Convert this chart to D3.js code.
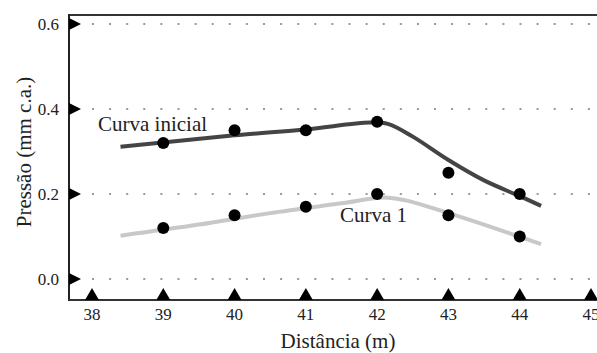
<!DOCTYPE html>
<html>
<head>
<meta charset="utf-8">
<script src="https://cdn.jsdelivr.net/npm/d3@7"></script>
<style>
    body { margin: 0; background: #fff; }
</style>
</head>
<body>
<script>
// measured points
const distancias = [39, 40, 41, 42, 43, 44];
const pressaoInicial = [0.32, 0.35, 0.35, 0.37, 0.25, 0.20];
const pressaoCurva1 = [0.12, 0.15, 0.17, 0.20, 0.15, 0.10];

// fitted curves
const curvaInicialX = [38.4, 40, 41, 41.9, 42.15, 42.5, 43, 43.5, 44, 44.3];
const curvaInicialY = [0.311, 0.338, 0.352, 0.368, 0.365, 0.335, 0.28, 0.232, 0.195, 0.172];
const curva1X = [38.4, 39.5, 40.5, 41.5, 42.1, 42.4, 43, 43.5, 44.3];
const curva1Y = [0.102, 0.128, 0.155, 0.178, 0.192, 0.185, 0.155, 0.128, 0.082];

const xTicks = [38, 39, 40, 41, 42, 43, 44, 45];
const yTicks = [0.0, 0.2, 0.4, 0.6];

const width = 597, height = 353;
const frame = {left: 69, top: 15, bottom: 300, right: 600};

const svg = d3.select('body').append('svg')
    .attr('width', width)
    .attr('height', height)
    .attr('font-family', '"Liberation Serif", "Times New Roman", serif')
    .attr('fill', '#222');

const x = d3.scaleLinear().domain([38, 45]).range([92, 591]);
const y = d3.scaleLinear().domain([0, 0.6]).range([279, 24]);

// dotted gridlines
svg.append('g').attr('class', 'grid')
    .selectAll('line')
    .data(yTicks)
    .join('line')
    .attr('x1', x(38))
    .attr('x2', width)
    .attr('y1', d => y(d))
    .attr('y2', d => y(d))
    .attr('stroke', '#999')
    .attr('stroke-width', 2)
    .attr('stroke-dasharray', '2,15.1');

// frame: top, left, bottom
svg.append('line')
    .attr('x1', frame.left).attr('x2', frame.right)
    .attr('y1', frame.top).attr('y2', frame.top)
    .attr('stroke', '#333').attr('stroke-width', 2);
svg.append('line')
    .attr('x1', frame.left).attr('x2', frame.left)
    .attr('y1', frame.top - 1).attr('y2', frame.bottom + 1)
    .attr('stroke', '#222').attr('stroke-width', 2);
svg.append('line')
    .attr('x1', frame.left).attr('x2', frame.right)
    .attr('y1', frame.bottom).attr('y2', frame.bottom)
    .attr('stroke', '#333').attr('stroke-width', 2);

// tick markers as triangles
svg.append('g')
    .selectAll('path')
    .data(yTicks)
    .join('path')
    .attr('d', d => 'M' + frame.left + ',' + (y(d) - 6) + 'L' + (frame.left + 12) + ',' + y(d) + 'L' + frame.left + ',' + (y(d) + 6) + 'Z')
    .attr('fill', '#000');

svg.append('g')
    .selectAll('path')
    .data(xTicks)
    .join('path')
    .attr('d', d => 'M' + (x(d) - 7) + ',' + frame.bottom + 'L' + x(d) + ',' + (frame.bottom - 12) + 'L' + (x(d) + 7) + ',' + frame.bottom + 'Z')
    .attr('fill', '#000');

// tick labels
svg.append('g')
    .selectAll('text')
    .data(yTicks)
    .join('text')
    .attr('x', 59)
    .attr('y', d => y(d) + 6)
    .attr('text-anchor', 'end')
    .attr('font-size', 17)
    .text(d => d3.format('.1f')(d));

svg.append('g')
    .selectAll('text')
    .data(xTicks)
    .join('text')
    .attr('x', d => x(d))
    .attr('y', 320)
    .attr('text-anchor', 'middle')
    .attr('font-size', 17)
    .text(d => d);

// axis titles
svg.append('text')
    .attr('x', 338)
    .attr('y', 348)
    .attr('text-anchor', 'middle')
    .attr('font-size', 21)
    .text('Distância (m)');

svg.append('text')
    .attr('transform', 'translate(31,152) rotate(-90)')
    .attr('text-anchor', 'middle')
    .attr('font-size', 21)
    .text('Pressão (mm c.a.)');

// curves
const line = d3.line()
    .x(d => x(d[0]))
    .y(d => y(d[1]))
    .curve(d3.curveCatmullRom.alpha(0.5));

svg.append('path')
    .datum(d3.zip(curva1X, curva1Y))
    .attr('d', line)
    .attr('fill', 'none')
    .attr('stroke', '#c8c8c8')
    .attr('stroke-width', 4);

svg.append('path')
    .datum(d3.zip(curvaInicialX, curvaInicialY))
    .attr('d', line)
    .attr('fill', 'none')
    .attr('stroke', '#444')
    .attr('stroke-width', 4);

// measured dots
svg.append('g')
    .selectAll('circle')
    .data(d3.zip(distancias, pressaoInicial).concat(d3.zip(distancias, pressaoCurva1)))
    .join('circle')
    .attr('cx', d => x(d[0]))
    .attr('cy', d => y(d[1]))
    .attr('r', 6)
    .attr('fill', '#000');

// curve labels
svg.append('text')
    .attr('x', 98)
    .attr('y', 131)
    .attr('font-size', 21)
    .text('Curva inicial');

svg.append('text')
    .attr('x', 340)
    .attr('y', 222)
    .attr('font-size', 21)
    .text('Curva 1');
</script>
</body>
</html>
